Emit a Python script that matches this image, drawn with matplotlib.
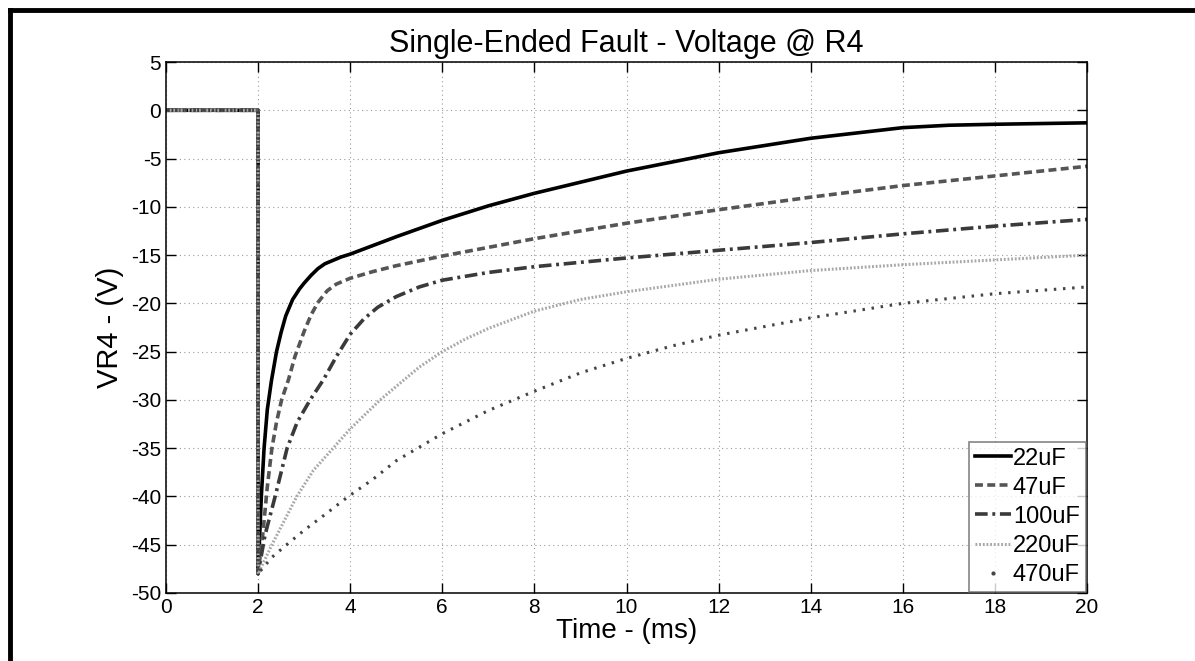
import numpy as np
import matplotlib.pyplot as plt
from matplotlib.lines import Line2D

plt.rcParams['font.family'] = ['Liberation Sans', 'DejaVu Sans']
plt.rcParams['axes.unicode_minus'] = False

# pre-fault segment (same for every run)
t_pre = [0.0, 2.0]
v_pre = [0.0, 0.0]

labels = ['22uF', '47uF', '100uF', '220uF', '470uF']

t_22 = [2.0, 2.07, 2.13, 2.2, 2.29, 2.4, 2.5, 2.6, 2.75, 2.9, 3.0, 3.15, 3.3, 3.45, 3.6, 3.8, 4.0,
        5.0, 6.0, 7.0, 8.0, 10.0, 12.0, 14.0, 16.0, 17.0, 18.0, 20.0]
v_22 = [-48, -40, -35, -31, -28, -25, -23, -21.3, -19.6, -18.5, -17.9, -17.1, -16.4, -15.9, -15.6,
        -15.2, -14.9, -13.1, -11.4, -9.9, -8.6, -6.3, -4.4, -2.9, -1.8, -1.55, -1.45, -1.3]

t_47 = [2.0, 2.1, 2.2, 2.3, 2.4, 2.51, 2.66, 2.8, 3.0, 3.15, 3.3, 3.5, 3.7, 3.85, 4.0, 4.5, 5.0,
        6.0, 7.0, 8.0, 10.0, 12.0, 14.0, 16.0, 18.0, 20.0]
v_47 = [-48, -44, -39, -35, -32.3, -30, -27.9, -25.5, -22.9, -21.2, -19.9, -18.7, -18.0, -17.7,
        -17.4, -16.7, -16.1, -15.1, -14.2, -13.3, -11.7, -10.3, -9.0, -7.8, -6.8, -5.8]

t_100 = [2.0, 2.15, 2.37, 2.63, 2.85, 3.13, 3.42, 3.7, 4.0, 4.3, 4.6, 5.0, 5.5, 6.0, 7.0, 8.0,
         10.0, 12.0, 14.0, 16.0, 18.0, 20.0]
v_100 = [-48, -44, -40, -35, -32.3, -30, -27.9, -25.5, -23.2, -21.6, -20.4, -19.3, -18.3, -17.6,
         -16.8, -16.2, -15.3, -14.5, -13.7, -12.8, -12.0, -11.3]

t_220 = [2.0, 2.3, 2.84, 3.2, 3.63, 4.0, 4.65, 5.0, 5.5, 6.0, 6.5, 7.0, 8.0, 9.0, 10.0, 12.0,
         14.0, 16.0, 18.0, 20.0]
v_220 = [-48, -45, -40, -37.3, -35, -33, -30, -28.6, -26.6, -25, -23.7, -22.6, -20.8, -19.6,
         -18.8, -17.5, -16.6, -16.0, -15.5, -15.0]

t_470 = [2.0, 2.3, 2.62, 3.0, 3.5, 3.96, 4.5, 5.0, 6.0, 7.0, 8.0, 9.0, 10.0, 11.0, 12.0, 14.0,
         16.0, 18.0, 20.0]
v_470 = [-48, -46.3, -45, -43.5, -41.7, -40, -38.2, -36.3, -33.5, -31.1, -29.1, -27.2, -25.7,
         -24.4, -23.3, -21.5, -20.0, -19.0, -18.3]

x_ticks = np.arange(0, 21, 2)
y_ticks = np.arange(-50, 6, 5)

fig = plt.figure(figsize=(11.95, 6.61), dpi=100)
ax = fig.add_axes([166 / 1195, 1 - 593 / 661, 921 / 1195, 531 / 661])

styles = [
    dict(color='black', lw=2.6, ls='-'),
    dict(color='#555555', lw=2.6, ls=(0, (2.2, 1.2))),
    dict(color='#3a3a3a', lw=2.6, ls=(0, (3.5, 1.3, 0.8, 1.3))),
    dict(color='#a8a8a8', lw=2.2, ls=(0, (0.6, 0.6))),
    dict(color='#444444', lw=2.2, ls=(0, (0.8, 2.2))),
]
series = [(t_22, v_22), (t_47, v_47), (t_100, v_100), (t_220, v_220), (t_470, v_470)]

for (t, v), st in zip(series, styles):
    ax.plot(t_pre + t, v_pre + v, **st)

ax.set_xlim(0, 20)
ax.set_ylim(-50, 5)
ax.set_xticks(x_ticks)
ax.set_yticks(y_ticks)
ax.grid(True, color='#9a9a9a', ls=(0, (1, 3)), lw=0.8)
ax.tick_params(direction='in', top=True, right=True, length=7, width=1, labelsize=15)
for s in ax.spines.values():
    s.set_linewidth(1.1)

ax.set_title('Single-Ended Fault - Voltage @ R4', fontsize=22, pad=7)
ax.set_xlabel('Time - (ms)', fontsize=20, labelpad=1)
ax.set_ylabel('VR4 - (V)', fontsize=21, labelpad=5)

handles = [Line2D([], [], **st) for st in styles[:4]]
handles.append(Line2D([], [], color='#444444', ls='none', marker='.', ms=4))
leg = ax.legend(handles, labels, loc='lower right', fontsize=17, frameon=True, fancybox=False,
                borderaxespad=0.05, handlelength=1.5, handletextpad=0.1, labelspacing=0.3,
                borderpad=0.25)
leg.get_frame().set_edgecolor('#666666')
leg.get_frame().set_linewidth(1.2)

# figure border (left and top edges visible in the crop)
fig.add_artist(Line2D([10 / 1195, 10 / 1195], [0, 1 - 10 / 661], transform=fig.transFigure,
                      color='black', lw=3.5, solid_capstyle='projecting'))
fig.add_artist(Line2D([10 / 1195, 1], [1 - 10 / 661, 1 - 10 / 661], transform=fig.transFigure,
                      color='black', lw=3.5, solid_capstyle='projecting'))

fig.savefig('out.png', dpi=100)
